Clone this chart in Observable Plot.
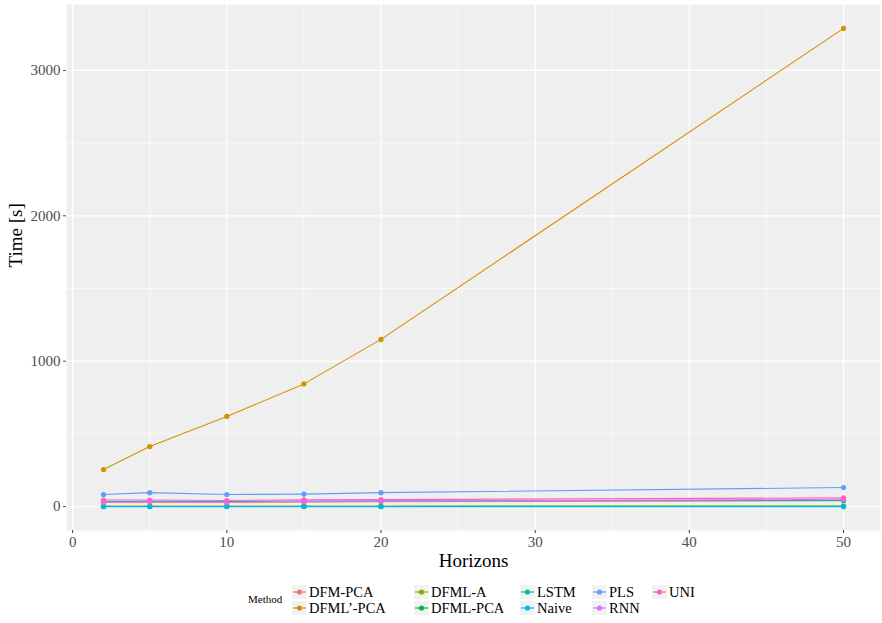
<!DOCTYPE html>
<html>
<head>
<meta charset="utf-8">
<script src="https://cdn.jsdelivr.net/npm/d3@7"></script>
<script src="https://cdn.jsdelivr.net/npm/@observablehq/plot@0.6"></script>
<style>
  html, body { margin: 0; padding: 0; background: #fff; }
  #chart { width: 882px; }
  text { font-family: "Liberation Serif", serif; }
</style>
</head>
<body>
<div id="chart"></div>
<script>
const horizons = [2, 5, 10, 15, 20, 50];
const methods = ["DFM-PCA", "DFML'-PCA", "DFML-A", "DFML-PCA", "LSTM", "Naive", "PLS", "RNN", "UNI"];
const legendLabels = ["DFM-PCA", "DFML’-PCA", "DFML-A", "DFML-PCA", "LSTM", "Naive", "PLS", "RNN", "UNI"];
const colors = ["#F8766D", "#D39200", "#93AA00", "#00BA38", "#00C19F", "#00B9E3", "#619CFF", "#DB72FB", "#FF61C3"];

const dfmPca    = [30, 31, 30, 32, 33, 40];
const dfmlPrime = [255, 413, 620, 844, 1150, 3289];
const dfmlA     = [3, 3, 3, 3, 3, 4];
const dfmlPca   = [1, 1, 1, 1, 1, 2];
const lstm      = [35, 36, 35, 38, 40, 42];
const naive     = [0, 0, 0, 0, 0, 0];
const pls       = [83, 96, 83, 86, 96, 131];
const rnn       = [30, 32, 30, 34, 36, 50];
const uni       = [45, 45, 42, 47, 48, 60];

const xTicks = [0, 10, 20, 30, 40, 50];
const xMinor = [5, 15, 25, 35, 45];
const yTicks = [0, 1000, 2000, 3000];
const yMinor = [500, 1500, 2500];

const series = [dfmPca, dfmlPrime, dfmlA, dfmlPca, lstm, naive, pls, rnn, uni];
const data = [];
series.forEach((vals, i) => vals.forEach((v, j) => data.push({method: methods[i], h: horizons[j], t: v})));

const xDomain = [2 - 0.05 * 48, 50 + 0.05 * 48];
const yDomain = [0 - 0.05 * 3289, 3289 + 0.05 * 3289];

const plot = Plot.plot({
  width: 882,
  height: 575,
  marginLeft: 66,
  marginRight: 2,
  marginTop: 4,
  marginBottom: 45,
  style: {fontFamily: "'Liberation Serif', serif", background: "#fff"},
  x: {domain: xDomain},
  y: {domain: yDomain},
  color: {domain: methods, range: colors},
  marks: [
    Plot.frame({fill: "#EFEFEF", stroke: null}),
    Plot.ruleX(xMinor, {stroke: "#fff", strokeWidth: 0.6}),
    Plot.ruleY(yMinor, {stroke: "#fff", strokeWidth: 0.6}),
    Plot.ruleX(xTicks, {stroke: "#fff", strokeWidth: 1.2}),
    Plot.ruleY(yTicks, {stroke: "#fff", strokeWidth: 1.2}),
    Plot.axisX({ticks: xTicks, tickFormat: d3.format("d"), tickSize: 3, tickPadding: 3, fontSize: 15, color: "#4D4D4D", stroke: "#333", label: null}),
    Plot.axisY({ticks: yTicks, tickFormat: d3.format("d"), tickSize: 3, tickPadding: 3, fontSize: 15, color: "#4D4D4D", label: null}),
    Plot.text(["Horizons"], {frameAnchor: "bottom", dy: 36, fontSize: 19, fill: "#000", lineAnchor: "bottom"}),
    Plot.text(["Time [s]"], {frameAnchor: "left", dx: -51, rotate: -90, fontSize: 19, fill: "#000"}),
    Plot.line(data, {x: "h", y: "t", z: "method", stroke: "method", strokeWidth: 1.1}),
    Plot.dot(data, {x: "h", y: "t", fill: "method", r: 2.6, stroke: null})
  ]
});
document.getElementById("chart").appendChild(plot);

// legend
const legend = d3.select("#chart").append("svg")
  .attr("width", 882).attr("height", 48)
  .style("display", "block");
legend.append("text").attr("x", 248).attr("y", 28)
  .attr("font-size", 11).attr("fill", "#000").text("Method");
const colX = [292, 414, 520, 592, 652];
const rowY = [17, 33];
legendLabels.forEach((lab, i) => {
  const c = Math.floor(i / 2), r = i % 2;
  const g = legend.append("g").attr("transform", `translate(${colX[c]},${rowY[r]})`);
  g.append("rect").attr("x", 0).attr("y", -7).attr("width", 15).attr("height", 14).attr("fill", "#F2F2F2");
  g.append("line").attr("x1", 1).attr("x2", 14).attr("y1", 0).attr("y2", 0).attr("stroke", colors[i]).attr("stroke-width", 1.2);
  g.append("circle").attr("cx", 7.5).attr("cy", 0).attr("r", 2.6).attr("fill", colors[i]);
  g.append("text").attr("x", 17).attr("y", 5).attr("font-size", 14.5).attr("fill", "#000").text(lab);
});
</script>
</body>
</html>
